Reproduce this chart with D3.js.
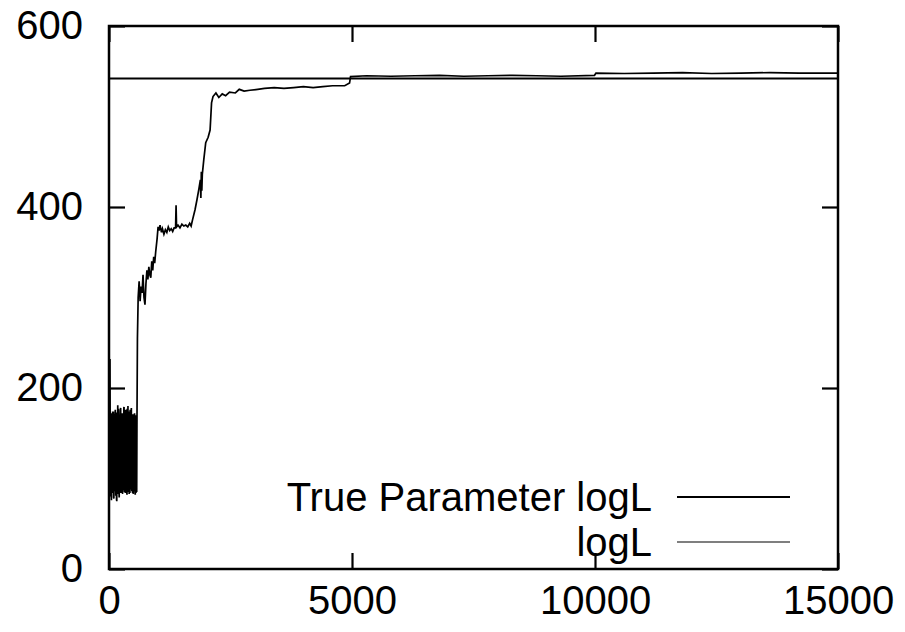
<!DOCTYPE html>
<html>
<head>
<meta charset="utf-8">
<script src="https://cdn.jsdelivr.net/npm/d3@7"></script>
<style>
  body { margin: 0; background: #fff; }
  svg text { font-family: "Liberation Sans", Arial, Helvetica, sans-serif; }
</style>
</head>
<body>
<div id="chart"></div>
<script>
// tick values
var xTicks = [0, 5000, 10000, 15000];
var yTicks = [0, 200, 400, 600];

// true parameter log likelihood (constant)
var trueLogL = 542;

// logL trace
var iterations = [
    0, 5, 10, 15, 20, 25, 30, 35, 40, 45,
    50, 55, 60, 65, 70, 75, 80, 85, 90, 95,
    100, 105, 110, 115, 120, 125, 130, 135, 140, 145,
    150, 155, 160, 165, 170, 175, 180, 185, 190, 195,
    200, 205, 210, 215, 220, 225, 230, 235, 240, 245,
    250, 255, 260, 265, 270, 275, 280, 285, 290, 295,
    300, 305, 310, 315, 320, 325, 330, 335, 340, 345,
    350, 355, 360, 365, 370, 375, 380, 385, 390, 395,
    400, 405, 410, 415, 420, 425, 430, 435, 440, 445,
    450, 455, 460, 465, 470, 475, 480, 485, 490, 495,
    500, 505, 510, 515, 520, 525, 530, 535, 540, 545,
    550, 555, 560, 565, 570, 575, 585, 600, 620, 640,
    660, 680, 700, 720, 740, 760, 780, 800, 820, 840,
    860, 880, 900, 920, 940, 960, 990, 1010, 1030, 1050,
    1080, 1100, 1130, 1160, 1190, 1220, 1250, 1280, 1310, 1340,
    1370, 1380, 1390, 1420, 1460, 1500, 1540, 1580, 1620, 1660,
    1690, 1720, 1770, 1810, 1850, 1880, 1890, 1900, 1910, 1920,
    1950, 1990, 2040, 2080, 2110, 2140, 2200, 2260, 2330, 2400,
    2480, 2600, 2680, 2780, 2900, 3060, 3200, 3400, 3600, 3800,
    4000, 4200, 4400, 4600, 4850, 4950, 4970, 5300, 5800, 6300,
    6800, 7300, 7800, 8300, 8800, 9300, 9990, 10020, 10600, 11200,
    11800, 12400, 13000, 13600, 14200, 15000
];
var logL = [
    150, 120, 95, 200, 232, 140, 80, 165, 150, 82,
    76, 172, 168, 90, 110, 174, 84, 130, 174, 79,
    78, 171, 140, 86, 92, 169, 176, 95, 81, 173,
    160, 77, 75, 168, 130, 83, 181, 100, 88, 177,
    170, 85, 79, 166, 155, 90, 100, 175, 178, 84,
    86, 172, 120, 88, 172, 92, 83, 170, 165, 87,
    90, 178, 179, 91, 85, 168, 145, 84, 176, 110,
    88, 174, 168, 86, 82, 177, 150, 85, 180, 95,
    87, 170, 125, 83, 174, 100, 84, 176, 162, 88,
    92, 171, 178, 90, 86, 169, 140, 84, 171, 95,
    83, 167, 158, 86, 90, 172, 168, 88, 82, 170,
    150, 84, 170, 92, 85, 160, 255, 300, 318, 296,
    312, 305, 325, 300, 292, 315, 330, 320, 334, 325,
    322, 340, 330, 345, 338, 350, 365, 378, 374, 380,
    372, 376, 370, 375, 372, 378, 374, 376, 373, 377,
    377, 402, 378, 380, 377, 381, 379, 380, 378, 382,
    379, 386, 397, 408, 420, 430, 410, 439, 418, 436,
    452, 471, 477, 485, 515, 522, 526, 521, 525, 523,
    527, 526, 530, 528, 529, 530, 531, 532, 531, 532,
    533, 532, 533, 534, 534, 537, 544, 545, 544.5, 545,
    545.5, 544.5, 545, 545.5, 545, 544.5, 545.5, 548, 547.5, 548,
    548.5, 547.5, 548, 548.5, 548, 548
];

var legendLabels = ["True Parameter logL", "logL"];

// layout
var margin = { top: 26, right: 67, bottom: 63, left: 109 },
    width = 905 - margin.left - margin.right,
    height = 632 - margin.top - margin.bottom;

var svg = d3.select("#chart")
    .append("svg")
    .attr("width", 905)
    .attr("height", 632)
    .append("g")
    .attr("transform", "translate(" + margin.left + "," + margin.top + ")");

var x = d3.scaleLinear().domain([0, 15000]).range([0, width]);
var y = d3.scaleLinear().domain([0, 600]).range([height, 0]);

var tickLen = 16;
var fmt = d3.format("d");

function styleAxis(g, showText) {
    g.select(".domain").remove();
    g.selectAll(".tick line").attr("stroke", "#000").attr("stroke-width", 2.2);
    if (showText) {
        g.selectAll(".tick text").attr("fill", "#000").style("font-size", "40px");
    } else {
        g.selectAll(".tick text").remove();
    }
}

// bottom and left axes, ticks pointing inward
svg.append("g")
    .attr("transform", "translate(0," + height + ")")
    .call(d3.axisBottom(x).tickValues(xTicks).tickFormat(fmt).tickSizeInner(-tickLen).tickSizeOuter(0).tickPadding(17))
    .call(styleAxis, true);

svg.append("g")
    .call(d3.axisLeft(y).tickValues(yTicks).tickFormat(fmt).tickSizeInner(-tickLen).tickSizeOuter(0).tickPadding(26))
    .call(styleAxis, true);

// mirrored ticks on top and right
svg.append("g")
    .call(d3.axisTop(x).tickValues(xTicks).tickSizeInner(-tickLen).tickSizeOuter(0))
    .call(styleAxis, false);

svg.append("g")
    .attr("transform", "translate(" + width + ",0)")
    .call(d3.axisRight(y).tickValues(yTicks).tickSizeInner(-tickLen).tickSizeOuter(0))
    .call(styleAxis, false);

// true parameter line
svg.append("line")
    .attr("x1", x(0))
    .attr("x2", x(15000))
    .attr("y1", y(trueLogL))
    .attr("y2", y(trueLogL))
    .attr("stroke", "#000")
    .attr("stroke-width", 2.2);

// logL trace
var trace = iterations.map(function (d, i) { return { it: d, v: logL[i] }; });
svg.append("path")
    .datum(trace)
    .attr("fill", "none")
    .attr("stroke", "#000")
    .attr("stroke-width", 1.7)
    .attr("d", d3.line()
        .x(function (d) { return x(d.it) })
        .y(function (d) { return y(d.v) })
    );

// frame
svg.append("rect")
    .attr("x", 0)
    .attr("y", 0)
    .attr("width", width)
    .attr("height", height)
    .attr("fill", "none")
    .attr("stroke", "#000")
    .attr("stroke-width", 2.5);

// legend
var legend = svg.append("g")
    .attr("transform", "translate(" + (652 - margin.left) + "," + (497 - margin.top) + ")");

legend.selectAll("text")
    .data(legendLabels)
    .enter()
    .append("text")
    .attr("x", 0)
    .attr("y", function (d, i) { return i * 45; })
    .attr("dy", "0.36em")
    .attr("text-anchor", "end")
    .style("font-size", "40px")
    .text(function (d) { return d; });

legend.selectAll("line")
    .data(legendLabels)
    .enter()
    .append("line")
    .attr("x1", 25)
    .attr("x2", 138)
    .attr("y1", function (d, i) { return i * 45; })
    .attr("y2", function (d, i) { return i * 45; })
    .attr("stroke", "#000")
    .attr("stroke-width", function (d, i) { return i === 0 ? 2.2 : 1.1; });
</script>
</body>
</html>
